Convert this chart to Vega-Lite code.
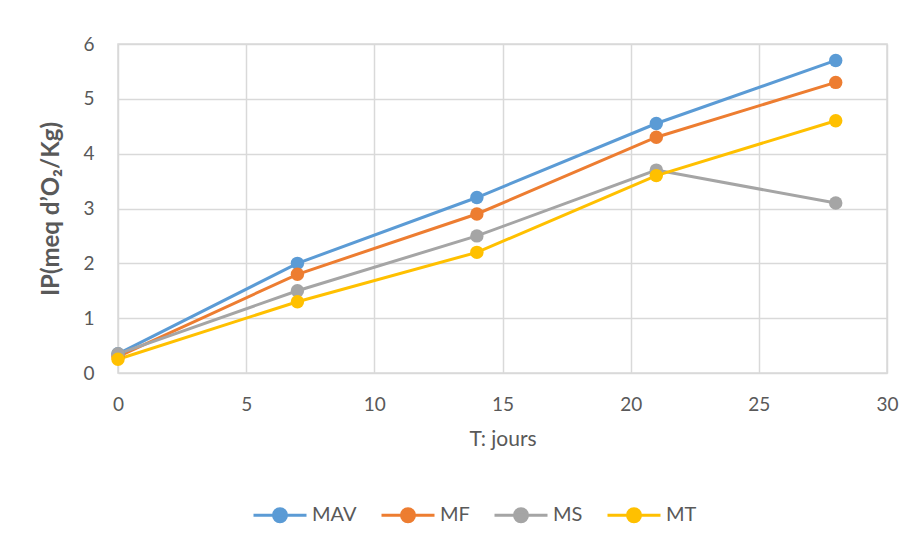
{
  "$schema": "https://vega.github.io/schema/vega-lite/v6.json",
  "width": 769,
  "height": 329,
  "autosize": {"type": "none"},
  "padding": {"left": 118, "top": 44, "right": 28, "bottom": 173},
  "background": "white",
  "config": {
    "font": "Lato",
    "view": {"stroke": "#d9d9d9", "strokeWidth": 1.5},
    "axis": {
      "gridColor": "#d9d9d9",
      "gridWidth": 1.5,
      "domain": false,
      "ticks": false,
      "labelFlush": false,
      "labelColor": "#595959",
      "labelFontSize": 19,
      "titleColor": "#595959",
      "titleFontSize": 21,
      "titleFontWeight": "normal"
    }
  },
  "data": {
    "values": [
      {"jours": 0, "serie": "MAV", "IP": 0.35},
      {"jours": 7, "serie": "MAV", "IP": 2.0},
      {"jours": 14, "serie": "MAV", "IP": 3.2},
      {"jours": 21, "serie": "MAV", "IP": 4.55},
      {"jours": 28, "serie": "MAV", "IP": 5.7},
      {"jours": 0, "serie": "MF", "IP": 0.3},
      {"jours": 7, "serie": "MF", "IP": 1.8},
      {"jours": 14, "serie": "MF", "IP": 2.9},
      {"jours": 21, "serie": "MF", "IP": 4.3},
      {"jours": 28, "serie": "MF", "IP": 5.3},
      {"jours": 0, "serie": "MS", "IP": 0.35},
      {"jours": 7, "serie": "MS", "IP": 1.5},
      {"jours": 14, "serie": "MS", "IP": 2.5},
      {"jours": 21, "serie": "MS", "IP": 3.7},
      {"jours": 28, "serie": "MS", "IP": 3.1},
      {"jours": 0, "serie": "MT", "IP": 0.25},
      {"jours": 7, "serie": "MT", "IP": 1.3},
      {"jours": 14, "serie": "MT", "IP": 2.2},
      {"jours": 21, "serie": "MT", "IP": 3.6},
      {"jours": 28, "serie": "MT", "IP": 4.6}
    ]
  },
  "encoding": {
    "x": {
      "field": "jours",
      "type": "quantitative",
      "scale": {"domain": [0, 30], "nice": false},
      "axis": {"values": [0, 5, 10, 15, 20, 25, 30], "title": "T: jours", "labelPadding": 22, "titlePadding": 14}
    },
    "y": {
      "field": "IP",
      "type": "quantitative",
      "scale": {"domain": [0, 6], "nice": false},
      "axis": {"values": [0, 1, 2, 3, 4, 5, 6], "title": "IP(meq d’O₂/Kg)", "titleFontWeight": "bold", "titleFontSize": 24, "labelPadding": 24, "titlePadding": 19}
    },
    "color": {
      "field": "serie",
      "type": "nominal",
      "scale": {"domain": ["MAV", "MF", "MS", "MT"], "range": ["#5b9bd5", "#ed7d31", "#a5a5a5", "#ffc000"]},
      "legend": {
        "title": null,
        "orient": "none",
        "direction": "horizontal",
        "legendX": 134,
        "legendY": 443,
        "labelFontSize": 20,
        "labelColor": "#595959",
        "symbolType": "M -1 0 L 1 0 M -0.245 0 A 0.245 0.245 0 1 1 0.245 0 A 0.245 0.245 0 1 1 -0.245 0 Z",
        "symbolSize": 2809,
        "symbolStrokeWidth": 3,
        "symbolOpacity": 1,
        "columnPadding": 18,
        "labelOffset": 4
      }
    }
  },
  "layer": [
    {"mark": {"type": "line", "strokeWidth": 3}},
    {"mark": {"type": "circle", "size": 180, "opacity": 1}}
  ]
}
